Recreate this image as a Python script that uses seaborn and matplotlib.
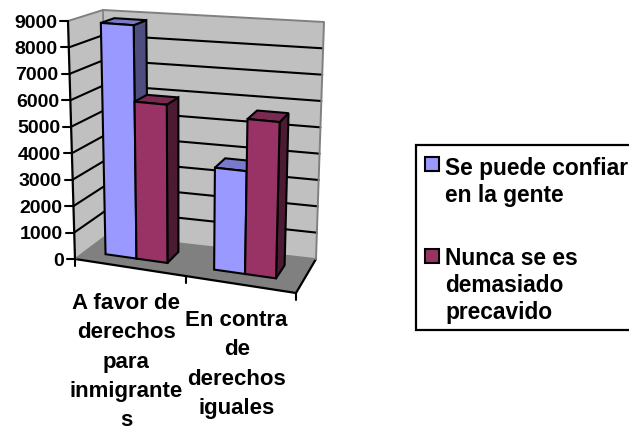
import numpy as np
import pandas as pd
import matplotlib
matplotlib.use('Agg')
import matplotlib.pyplot as plt
import seaborn as sns
from matplotlib.patches import Polygon, Rectangle
from matplotlib.transforms import Transform

categories = ['A favor de\nderechos\npara\ninmigrante\ns', 'En contra\nde\nderechos\niguales']
series_names = ['Se puede confiar\nen la gente', 'Nunca se es\ndemasiado\nprecavido']
trust_values = [8850, 3780]
caution_values = [5950, 5700]
value_ticks = [0, 1000, 2000, 3000, 4000, 5000, 6000, 7000, 8000, 9000]

front_colors = ['#9999FF', '#993366']
side_colors = ['#4D4D80', '#4D1A33']
top_colors = ['#7A7ACC', '#7A2952']

# corners of the 3d box in pixels: (x position, value, depth)
BOX = {
    (0, 0, 0): (75, 259), (1, 0, 0): (296, 293),
    (0, 1, 0): (68, 21), (1, 1, 0): (303, 39),
    (0, 0, 1): (107, 235), (1, 0, 1): (316, 259),
    (0, 1, 1): (103, 10), (1, 1, 1): (324, 22),
}
BAR_DEPTH = (0.32, 0.72)
VMAX = 9000
XMIN, XMAX = -0.472, 1.528


def project(x, v, w):
    """Trilinear map of category position, value and depth to pixels."""
    u = (np.asarray(x, dtype=float) - XMIN) / (XMAX - XMIN)
    t = np.asarray(v, dtype=float) / VMAX
    w = np.asarray(w, dtype=float)
    px, py = 0, 0
    for (a, b, c), (cx, cy) in BOX.items():
        k = (u if a else 1 - u) * (t if b else 1 - t) * (w if c else 1 - w)
        px = px + k * cx
        py = py + k * cy
    return px, py


class FrontPlane(Transform):
    """Sends barplot data coordinates to pixels at a given depth."""
    input_dims = 2
    output_dims = 2

    def __init__(self, bar_depth):
        super().__init__()
        self.bar_depth = bar_depth

    def transform_non_affine(self, values):
        px, py = project(values[:, 0], values[:, 1], self.bar_depth)
        return np.column_stack([px, py])


sns.set_theme(style='white')
plt.rcParams['font.family'] = ['Liberation Sans', 'DejaVu Sans']
plt.rcParams['font.weight'] = 'bold'

fig = plt.figure(figsize=(6.29, 4.32), dpi=100)

frame = fig.add_axes([0, 0, 1, 1])
frame.set_xlim(0, 629)
frame.set_ylim(432, 0)
frame.axis('off')

ax = fig.add_axes([0, 0, 1, 1], facecolor='none')


def face(points, color, edge='none', lw=0.0, zorder=1):
    frame.add_patch(Polygon(points, closed=True, facecolor=color, edgecolor=edge,
                            linewidth=lw, zorder=zorder, joinstyle='round'))


def line(points, color='black', lw=1.5, zorder=3):
    xs, ys = zip(*points)
    frame.plot(xs, ys, color=color, linewidth=lw, zorder=zorder,
               solid_capstyle='round', clip_on=False)


# walls and floor
x0, x1 = XMIN, XMAX
face([project(x0, 0, 0), project(x0, VMAX, 0), project(x0, VMAX, 1), project(x0, 0, 1)], '#C0C0C0')
face([project(x0, 0, 1), project(x0, VMAX, 1), project(x1, VMAX, 1), project(x1, 0, 1)], '#C0C0C0')
face([project(x0, 0, 0), project(x0, 0, 1), project(x1, 0, 1), project(x1, 0, 0)], '#808080')

for v in value_ticks[1:-1]:
    line([project(x0, v, 0), project(x0, v, 1), project(x1, v, 1)], lw=1.5)
line([project(x0, VMAX, 0), project(x0, VMAX, 1), project(x1, VMAX, 1), project(x1, 0, 1)],
     color='#808080', lw=1.4)
line([project(x0, 0, 1), project(x0, VMAX, 1)], color='#808080', lw=1.2)
line([project(x0, 0, 0), project(x0, 0, 1), project(x1, 0, 1)], color='#808080', lw=1.2)

# value axis
line([project(x0, 0, 0), project(x0, VMAX, 0)], lw=1.6, zorder=4)
for v in value_ticks:
    px, py = project(x0, v, 0)
    line([(px - 8, py), (px, py)], lw=1.5, zorder=4)
    frame.text(px - 11, py, str(v), ha='right', va='center_baseline', fontsize=14,
               fontweight='bold', color='black')

# category axis
line([project(x0, 0, 0), project(x1, 0, 0), project(x1, 0, 1)], lw=1.6, zorder=2)
for x in [x0, (x0 + x1) / 2, x1]:
    px, py = project(x, 0, 0)
    line([(px, py), (px, py + 7)], lw=1.5, zorder=2)
for i, label in enumerate(categories):
    px, py = project(i, 0, 0)
    frame.text(px - 1, py + 26, label, ha='center', va='top', fontsize=16,
               fontweight='bold', color='black', linespacing=1.52)

# bars
df = pd.DataFrame({
    'category': categories * 2,
    'series': np.repeat(series_names, len(categories)),
    'value': trust_values + caution_values,
})
sns.barplot(data=df, x='category', y='value', hue='series', hue_order=series_names,
            palette=front_colors, saturation=1, width=0.57, gap=0, legend=False, ax=ax)
ax.axis('off')

depth_front, depth_back = BAR_DEPTH
front_plane = FrontPlane(depth_front) + frame.transData
bars = sorted([p for p in ax.patches if isinstance(p, Rectangle)], key=lambda p: p.get_x())
for n, bar in enumerate(bars):
    s = n % 2
    left, right, height = bar.get_x(), bar.get_x() + bar.get_width(), bar.get_height()
    side = [project(right, 0, depth_front), project(right, height, depth_front),
            project(right, height, depth_back), project(right, 0, depth_back)]
    top = [project(left, height, depth_front), project(left, height, depth_back),
           project(right, height, depth_back), project(right, height, depth_front)]
    base = 10 + 3 * n
    ax.add_patch(Polygon(side, closed=True, facecolor=side_colors[s], edgecolor='black',
                         linewidth=1.5, transform=frame.transData, zorder=base, clip_on=False))
    ax.add_patch(Polygon(top, closed=True, facecolor=top_colors[s], edgecolor='black',
                         linewidth=1.5, transform=frame.transData, zorder=base + 1, clip_on=False))
    bar.set_transform(front_plane)
    bar.set_edgecolor('black')
    bar.set_linewidth(1.5)
    bar.set_zorder(base + 2)
    bar.set_clip_on(False)

# legend box runs off the right edge like the original
frame.add_patch(Rectangle((416, 145), 230, 185, facecolor='white', edgecolor='black',
                          linewidth=1.6, zorder=5))
key_y = [164.5, 256]
text_top = [157, 247]
for name, color, ky, ty in zip(series_names, front_colors, key_y, text_top):
    frame.add_patch(Rectangle((424.5, ky - 7.5), 14, 14, facecolor=color, edgecolor='black',
                              linewidth=1.5, zorder=6))
    frame.text(445, ty, name, ha='left', va='top', fontsize=16.4, fontweight='bold',
               color='black', linespacing=1.22, zorder=6)

fig.savefig('out.png', dpi=100, facecolor='white')
